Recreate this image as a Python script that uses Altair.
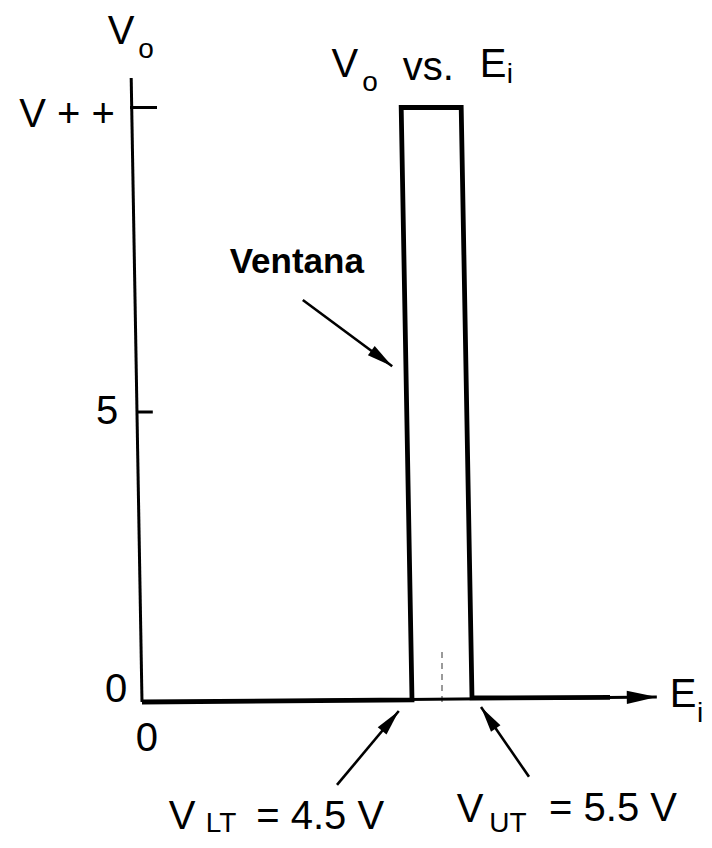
import math
import altair as alt
import pandas as pd

# ---------------- values (volts, drawing units) ----------------
V_LT = 4.5            # lower threshold
V_UT = 5.5            # upper threshold
V_PP = 10.25          # level drawn for V++

# output curve Vo vs Ei (window edges lean slightly, as drawn)
curve_ei = [0.0, 4.5, 4.32, 5.32, 5.5, 7.8]
curve_vo = [0.0, 0.035, V_PP, V_PP, 0.07, 0.08]

# axes as drawn
axis_x1 = [0.0, 0.0]
axis_y1 = [0.0, 0.0]
axis_x2 = [-0.18, 8.58]
axis_y2 = [10.76, 0.086]

# y ticks (level, left end, right end)
tick_levels = [V_PP, 5.0]
tick_left = [-0.2, -0.07]
tick_right = [0.25, 0.18]

# faint dashed mark at the window centre
centre_ei = 5.0
centre_top = 0.9

# annotation arrows: start -> tip
arrow_x1 = [2.68, 3.25, 6.45]
arrow_y1 = [6.93, -1.43, -1.29]
arrow_x2 = [4.17, 4.28, 5.65]
arrow_y2 = [5.79, -0.155, -0.086]

# text: main size
main_text = ["V + +", "5", "0", "0", "V", "V", "vs.", "E", "E",
             "V", f"= {V_LT} V", "V", f"= {V_UT} V"]
main_x = [-1.25, -0.583, -0.433, 0.083, -0.35, 3.38, 4.77, 5.85, 9.02,
          0.667, 2.97, 5.47, 7.85]
main_y = [10.12, 5.0, 0.207, -0.638, 11.55, 10.98, 10.93, 10.98, 0.12,
          -1.98, -1.98, -1.86, -1.84]
# text: subscripts
sub_text = ["o", "o", "i", "i", "LT", "UT"]
sub_x = [0.067, 3.8, 6.13, 9.3, 1.317, 6.1]
sub_y = [11.24, 10.67, 10.81, -0.21, -2.1, -2.1]
# text: bold label
bold_text = ["Ventana"]
bold_x = [2.58]
bold_y = [7.59]

# ---------------- layout ----------------
W, H = 696, 832
X_DOM = [-2.2333, 9.3667]
Y_DOM = [-2.3793, 11.9655]
SX = W / (X_DOM[1] - X_DOM[0])
SY = H / (Y_DOM[1] - Y_DOM[0])
xs = alt.Scale(domain=X_DOM, nice=False, zero=False)
ys = alt.Scale(domain=Y_DOM, nice=False, zero=False)
FONT = "Liberation Sans"
HEAD = "M0,0L-0.22,1L0.22,1Z"


def X(f="x"):
    return alt.X(f"{f}:Q", scale=xs, axis=None)


def Y(f="y"):
    return alt.Y(f"{f}:Q", scale=ys, axis=None)


def seg_layer(df, width, color="black", dash=None):
    kw = dict(color=color, strokeWidth=width, strokeCap="butt")
    if dash:
        kw["strokeDash"] = dash
    return alt.Chart(df).mark_rule(**kw).encode(
        x=X("x"), y=Y("y"), x2="x2:Q", y2="y2:Q")


def angle_of(x1, y1, x2, y2):
    return math.degrees(math.atan2((x2 - x1) * SX, (y2 - y1) * SY)) % 360


curve = alt.Chart(pd.DataFrame({"x": curve_ei, "y": curve_vo,
                                "o": list(range(len(curve_ei)))})).mark_line(
    color="black", strokeWidth=4.8, strokeJoin="miter", strokeCap="butt"
).encode(x=X(), y=Y(), order="o:Q")

axes = seg_layer(pd.DataFrame({"x": axis_x1, "y": axis_y1,
                               "x2": axis_x2, "y2": axis_y2}), 3)
ticks = seg_layer(pd.DataFrame({"x": tick_left, "y": tick_levels,
                                "x2": tick_right, "y2": tick_levels}), 3)
centre = seg_layer(pd.DataFrame({"x": [centre_ei], "y": [0.0],
                                 "x2": [centre_ei], "y2": [centre_top]}),
                   2, color="#9a9a9a", dash=[6, 5])
arrows = seg_layer(pd.DataFrame({"x": arrow_x1, "y": arrow_y1,
                                 "x2": arrow_x2, "y2": arrow_y2}), 2.6)

heads_x = arrow_x2 + [axis_x2[1]]
heads_y = arrow_y2 + [axis_y2[1]]
heads_a = [angle_of(a, b, c, d) for a, b, c, d in zip(arrow_x1, arrow_y1, arrow_x2, arrow_y2)]
heads_a.append(angle_of(axis_x1[1], axis_y1[1], axis_x2[1], axis_y2[1]))
heads_s = [2704, 2704, 2704, 3600]
heads = alt.Chart(pd.DataFrame({"x": heads_x, "y": heads_y, "a": heads_a, "s": heads_s})).mark_point(
    shape=HEAD, filled=True, color="black", opacity=1, strokeWidth=0
).encode(x=X(), y=Y(), angle=alt.Angle("a:Q", scale=None), size=alt.Size("s:Q", scale=None))


def text_layer(t, x, y, size, weight="normal"):
    return alt.Chart(pd.DataFrame({"t": t, "x": x, "y": y})).mark_text(
        font=FONT, fontSize=size, fontWeight=weight, align="center",
        baseline="middle", color="black"
    ).encode(x=X(), y=Y(), text="t:N")


chart = alt.layer(
    centre, axes, ticks, curve, arrows, heads,
    text_layer(main_text, main_x, main_y, 40),
    text_layer(sub_text, sub_x, sub_y, 28),
    text_layer(bold_text, bold_x, bold_y, 35, "bold"),
).properties(
    width=W, height=H, padding=0,
    autosize=alt.AutoSizeParams(type="none"),
    background="white",
).configure_view(stroke=None)

chart.save("out.html", embed_options={"renderer": "svg", "actions": False})
